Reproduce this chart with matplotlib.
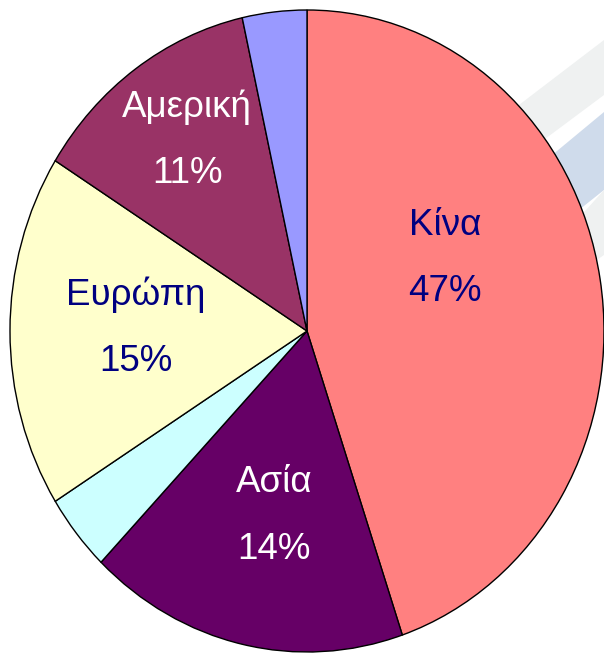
import matplotlib.pyplot as plt
from matplotlib.patches import Polygon

# slices in clockwise order starting at 12 o'clock
regions = ["Κίνα", "Ασία", "", "Ευρώπη", "Αμερική", ""]
shares = [44.8, 17.4, 3.9, 17.8, 12.6, 3.5]          # drawn angles
pct_labels = ["47%", "14%", "", "15%", "11%", ""]     # printed labels
colors = ["#FF8080", "#660066", "#CCFFFF", "#FFFFCC", "#993366", "#9999FF"]
text_colors = ["#000080", "white", None, "#000080", "white", None]

# baseline of the region name, in pie units (radius = 1)
label_pos = [(0.465, 0.299), (-0.111, -0.502), None, (-0.576, 0.081), (-0.404, 0.667), None]
line_gap = 0.207

W, H = 604, 654
fig = plt.figure(figsize=(W / 100, H / 100), dpi=100)
fig.patch.set_facecolor("white")

# faint diagonal background streaks on the right, behind the pie
bg = fig.add_axes([0, 0, 1, 1], zorder=0)
bg.set_xlim(0, W)
bg.set_ylim(H, 0)
bg.axis("off")
for pts, col in [
    ([(460, 150), (604, 40), (604, 95), (490, 180)], "#EFF1F1"),
    ([(510, 190), (604, 112), (604, 190), (535, 245)], "#CFDBEB"),
    ([(550, 250), (604, 190), (604, 255), (575, 275)], "#EFF1F1"),
]:
    bg.add_patch(Polygon(pts, closed=True, facecolor=col, edgecolor="none"))

ax = fig.add_axes([0, 0, 1, 1], zorder=1)
ax.patch.set_alpha(0)

ax.pie(shares, colors=colors, startangle=90, counterclock=False,
       wedgeprops=dict(edgecolor="black", linewidth=1.0))

# pie is slightly taller than wide in the original
ax.set_aspect("auto")
ax.set_xlim(-307 / 297, (W - 307) / 297)
ax.set_ylim(-(H - 331) / 321, 331 / 321)
ax.axis("off")

for name, pct, pos, tc in zip(regions, pct_labels, label_pos, text_colors):
    if not name:
        continue
    x, y = pos
    ax.text(x, y, name, ha="center", va="baseline", color=tc,
            fontsize=26.5, family="Liberation Sans")
    ax.text(x, y - line_gap, pct, ha="center", va="baseline", color=tc,
            fontsize=26.5, family="Liberation Sans")

fig.savefig("out.png", dpi=100)
